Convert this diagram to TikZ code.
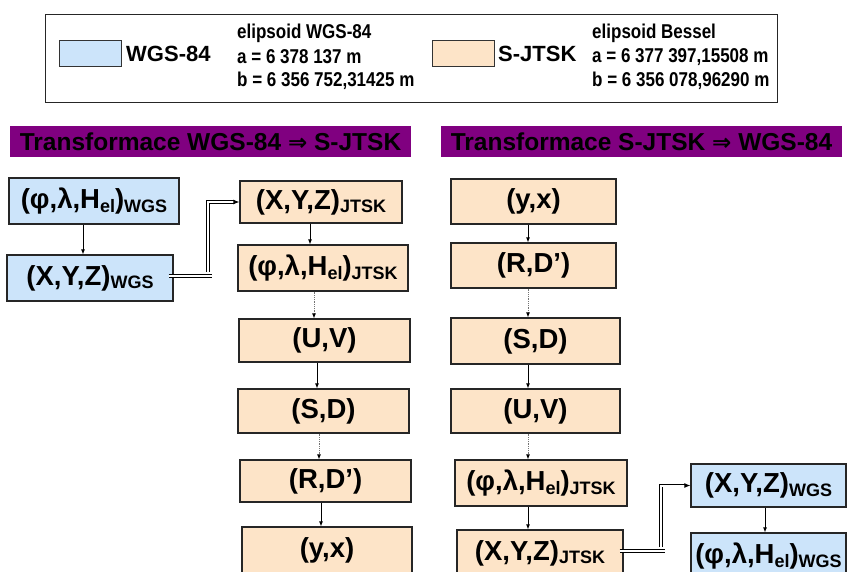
\documentclass[tikz,border=0pt]{standalone}
\usepackage{fontspec}
\setmainfont{Liberation Sans}
\newfontfamily\legfont[FakeStretch=0.85]{Liberation Sans}
\newfontfamily\headfont{Liberation Sans}
\newfontfamily\symfont{DejaVu Sans}
\usetikzlibrary{arrows.meta}
\definecolor{wgsblue}{RGB}{204,228,250}
\definecolor{jtskorange}{RGB}{253,228,200}
\definecolor{headpurple}{RGB}{128,0,128}
\newcommand\lowtxt[1]{\raisebox{-0.14em}{\fontsize{18}{18}\selectfont #1}}
\begin{document}
\begin{tikzpicture}[x=1pt,y=-1pt,
  box/.style={draw=black!85, line width=1.3pt, font=\fontsize{27.5}{30}\selectfont\bfseries, inner sep=0pt},
  wgs/.style={box, fill=wgsblue},
  jtsk/.style={box, fill=jtskorange},
  head/.style={fill=headpurple, minimum width=401, minimum height=31, inner sep=0pt,
    font=\headfont\fontsize{24.5}{26}\selectfont\bfseries, text=black},
  legtxt/.style={anchor=west, inner sep=0pt, font=\legfont\fontsize{20}{22}\selectfont\bfseries},
  leglab/.style={anchor=west, inner sep=0pt, font=\fontsize{22}{24}\selectfont\bfseries},
  swatch/.style={draw=black!80, line width=1pt, minimum width=62, minimum height=26, inner sep=0pt},
  solidarr/.style={-{Latex[length=5pt,width=4pt]}, line width=0.8pt},
  dotarr/.style={-{Latex[length=5pt,width=4pt,color=black]}, line width=0.8pt, densely dotted, draw=black!55},
  dbl/.style={double, double distance=2pt, line width=0.9pt},
  dblarr/.style={dbl, -{Latex[length=6pt,width=5pt]}}
]
\useasboundingbox (0,0) rectangle (848,571);

% legend
\node[draw=black!85, line width=1pt, minimum width=732, minimum height=88, inner sep=0pt] (leg) at (411,58) {};
\node[swatch, fill=wgsblue] (sw1) at (90,53) {};
\node[leglab] (l1) at (126,54) {WGS-84};
\node[legtxt] (e1) at (237,33) {elipsoid WGS-84};
\node[legtxt] (a1) at (237,57) {a = 6 378 137 m};
\node[legtxt] (b1) at (237,81) {b = 6 356 752,31425 m};
\node[swatch, fill=jtskorange] (sw2) at (463,53.5) {};
\node[leglab] (l2) at (498,54) {S-JTSK};
\node[legtxt] (e2) at (592,33) {elipsoid Bessel};
\node[legtxt] (a2) at (592,57) {a = 6 377 397,15508 m};
\node[legtxt] (b2) at (592,81) {b = 6 356 078,96290 m};

% headers
\node[head] (h1) at (210.5,141.5) {Transformace WGS-84 {\symfont\fontsize{23}{23}\selectfont ⇒} S-JTSK};
\node[head] (h2) at (641.5,141.5) {Transformace S-JTSK {\symfont\fontsize{23}{23}\selectfont ⇒} WGS-84};

% left column
\node[wgs, minimum width=170, minimum height=46] (B1) at (94,201) {(φ,λ,H\lowtxt{el})\lowtxt{WGS}};
\node[wgs, minimum width=166, minimum height=46] (B2) at (90,278) {(X,Y,Z)\lowtxt{WGS}};

\node[jtsk, minimum width=162, minimum height=42] (O1) at (321,202) {(X,Y,Z)\lowtxt{JTSK}};
\node[jtsk, minimum width=170, minimum height=46] (O2) at (323,268) {(φ,λ,H\lowtxt{el})\lowtxt{JTSK}};
\node[jtsk, minimum width=171, minimum height=43] (O3) at (324.5,340.5) {(U,V)};
\node[jtsk, minimum width=171, minimum height=44] (O4) at (323.5,411) {(S,D)};
\node[jtsk, minimum width=171, minimum height=42] (O5) at (325.5,481) {(R,D’)};
\node[jtsk, minimum width=170, minimum height=46] (O6) at (327,550) {(y,x)};

% right column
\node[jtsk, minimum width=165, minimum height=45] (R1) at (533.5,201.5) {(y,x)};
\node[jtsk, minimum width=165, minimum height=45] (R2) at (533.5,265.5) {(R,D’)};
\node[jtsk, minimum width=169, minimum height=46] (R3) at (535.5,341) {(S,D)};
\node[jtsk, minimum width=169, minimum height=44] (R4) at (535.5,411) {(U,V)};
\node[jtsk, minimum width=172, minimum height=46] (R5) at (541,483) {(φ,λ,H\lowtxt{el})\lowtxt{JTSK}};
\node[jtsk, minimum width=166, minimum height=46] (R6) at (540,553) {(X,Y,Z)\lowtxt{JTSK}};
\node[wgs, minimum width=155, minimum height=43] (W1) at (768.5,485.5) {(X,Y,Z)\lowtxt{WGS}};
\node[wgs, minimum width=155, minimum height=46] (W2) at (768.5,556) {(φ,λ,H\lowtxt{el})\lowtxt{WGS}};

% connectors
\draw[solidarr] ([xshift=-11]B1.south) -- ([xshift=-7]B2.north);
\coordinate (k1) at (208,0);
\coordinate (s1) at ([yshift=2]B2.east);
\draw[dbl] ([xshift=-5]s1) -- ([xshift=4]k1 |- s1);
\draw[dblarr] ([yshift=4]k1 |- s1) |- (O1.west);
\draw[solidarr] ([xshift=-11]O1.south) -- ([xshift=-13]O2.north);
\draw[dotarr] ([xshift=-9]O2.south) -- ([xshift=-10.5]O3.north);
\draw[solidarr] ([xshift=-7.5]O3.south) -- ([xshift=-6.5]O4.north);
\draw[dotarr] ([xshift=-4.5]O4.south) -- ([xshift=-6.5]O5.north);
\draw[solidarr] ([xshift=-4.5]O5.south) -- ([xshift=-6]O6.north);

\draw[solidarr] ([xshift=-5.5]R1.south) -- ([xshift=-5.5]R2.north);
\draw[dotarr] ([xshift=-5.5]R2.south) -- ([xshift=-7.5]R3.north);
\draw[solidarr] ([xshift=-7.5]R3.south) -- ([xshift=-7.5]R4.north);
\draw[dotarr] ([xshift=-7.5]R4.south) -- ([xshift=-13]R5.north);
\draw[solidarr] ([xshift=-13]R5.south) -- ([xshift=-12]R6.north);
\coordinate (k2) at (661,0);
\coordinate (s2) at ([yshift=2]R6.east);
\draw[dbl] ([xshift=-4]s2) -- ([xshift=4]k2 |- s2);
\draw[dblarr] ([yshift=4]k2 |- s2) |- (W1.west);
\draw[solidarr] ([xshift=-3.5]W1.south) -- ([xshift=-3.5]W2.north);
\end{tikzpicture}
\end{document}
